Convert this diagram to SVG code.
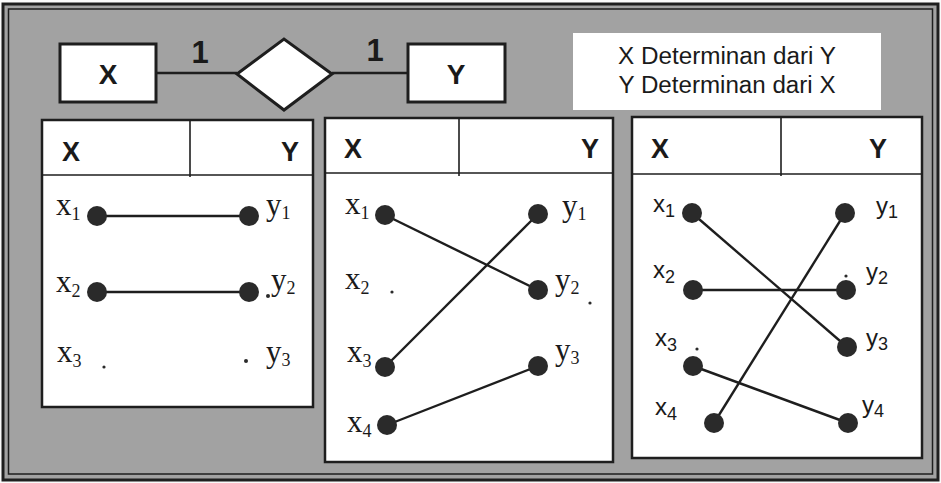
<svg xmlns="http://www.w3.org/2000/svg" width="941" height="483" viewBox="0 0 941 483">
<defs>
<style>
.frame{fill:none;stroke:#1e1e1e}
.box{fill:#fff;stroke:#1e1e1e;stroke-width:3}
.tbl{fill:#fff;stroke:#1e1e1e;stroke-width:2.5}
.div{stroke:#1e1e1e;stroke-width:1.6}
.bold{font-family:"Liberation Sans",Arial,sans-serif;font-weight:bold;fill:#1a1a1a}
.note{font-family:"Liberation Sans",Arial,sans-serif;font-size:23px;fill:#1a1a1a}
.ser{font-family:"Liberation Serif","Times New Roman",serif;font-size:31px;fill:#1a1a1a}
.san{font-family:"Liberation Sans",Arial,sans-serif;font-size:24px;fill:#1a1a1a}
.sub{font-size:18px}
.pt{fill:#2a2a2a}
.dot{fill:#2a2a2a}
.ln{stroke:#1e1e1e;stroke-width:2.4;fill:none}
</style>
</defs>
<rect x="0" y="0" width="941" height="483" fill="#fafafa"/>
<rect x="3" y="4" width="935" height="476" fill="#a2a2a2"/>
<rect class="frame" x="3" y="4" width="935" height="476" stroke-width="3"/>
<rect class="frame" x="8.5" y="9" width="924" height="465" stroke-width="1.5"/>

<g id="connectors">
<line class="ln" x1="157" y1="73" x2="237" y2="73" stroke-width="3.5"/>
<line class="ln" x1="332" y1="73" x2="408" y2="73" stroke-width="3.5"/>
</g>

<g id="entity-x">
<rect class="box" x="60" y="44" width="96" height="58"/>
<text class="bold" x="108" y="84" font-size="28" text-anchor="middle">X</text>
</g>
<g id="relation">
<polygon points="237,74 284,39 332,74 284,110" fill="#fff" stroke="#1e1e1e" stroke-width="3"/>
</g>
<g id="entity-y">
<rect class="box" x="408" y="44" width="97" height="58"/>
<text class="bold" x="456" y="84" font-size="28" text-anchor="middle">Y</text>
</g>
<g id="card-left"><text class="bold" x="200" y="63" font-size="31" text-anchor="middle">1</text></g>
<g id="card-right"><text class="bold" x="375" y="61" font-size="31" text-anchor="middle">1</text></g>

<g id="note">
<rect x="573" y="33" width="308" height="77" fill="#fff"/>
<text class="note" x="727" y="64" text-anchor="middle" textLength="218" lengthAdjust="spacingAndGlyphs">X Determinan dari Y</text>
<text class="note" x="727" y="93" text-anchor="middle" textLength="217" lengthAdjust="spacingAndGlyphs">Y Determinan dari X</text>
</g>

<g id="table1">
<rect class="tbl" x="42" y="120" width="271" height="287"/>
<line class="div" x1="42" y1="175" x2="313" y2="175"/>
<line class="div" x1="190" y1="120" x2="190" y2="177"/>
<text class="bold" x="62" y="161" font-size="27">X</text>
<text class="bold" x="299" y="161" font-size="27" text-anchor="end">Y</text>
<line class="ln" x1="97" y1="216" x2="249" y2="216"/>
<line class="ln" x1="97" y1="292" x2="249" y2="292"/>
<circle class="dot" cx="97" cy="216" r="10"/>
<circle class="dot" cx="249" cy="216" r="10"/>
<circle class="dot" cx="97" cy="292" r="10"/>
<circle class="dot" cx="249" cy="292" r="10"/>
<circle class="pt" cx="104" cy="367" r="1.6"/>
<circle class="pt" cx="246" cy="361" r="2"/>
<circle class="pt" cx="268" cy="296" r="2"/>
<text class="ser" x="56" y="215">x<tspan class="sub" dy="5">1</tspan></text>
<text class="ser" x="266" y="215">y<tspan class="sub" dy="4">1</tspan></text>
<text class="ser" x="56" y="292">x<tspan class="sub" dy="5">2</tspan></text>
<text class="ser" x="271" y="290">y<tspan class="sub" dy="4">2</tspan></text>
<text class="ser" x="57" y="362">x<tspan class="sub" dy="5">3</tspan></text>
<text class="ser" x="266" y="362">y<tspan class="sub" dy="4">3</tspan></text>
</g>

<g id="table2">
<rect class="tbl" x="325" y="118" width="288" height="344"/>
<line class="div" x1="325" y1="173" x2="613" y2="173"/>
<line class="div" x1="459" y1="118" x2="459" y2="176"/>
<text class="bold" x="344" y="158" font-size="27">X</text>
<text class="bold" x="599" y="158" font-size="27" text-anchor="end">Y</text>
<line class="ln" x1="385" y1="215" x2="538" y2="290"/>
<line class="ln" x1="538" y1="214" x2="385" y2="367"/>
<line class="ln" x1="387" y1="425" x2="538" y2="366"/>
<circle class="dot" cx="385" cy="215" r="10"/>
<circle class="dot" cx="538" cy="214" r="10"/>
<circle class="dot" cx="538" cy="290" r="10"/>
<circle class="dot" cx="385" cy="367" r="10"/>
<circle class="dot" cx="538" cy="366" r="10"/>
<circle class="dot" cx="387" cy="425" r="10"/>
<circle class="pt" cx="392" cy="292" r="1.6"/>
<circle class="pt" cx="590" cy="303" r="1.6"/>
<text class="ser" x="345" y="214">x<tspan class="sub" dy="5">1</tspan></text>
<text class="ser" x="562" y="216">y<tspan class="sub" dy="4">1</tspan></text>
<text class="ser" x="345" y="289">x<tspan class="sub" dy="5">2</tspan></text>
<text class="ser" x="555" y="290">y<tspan class="sub" dy="4">2</tspan></text>
<text class="ser" x="347" y="362">x<tspan class="sub" dy="5">3</tspan></text>
<text class="ser" x="555" y="360">y<tspan class="sub" dy="4">3</tspan></text>
<text class="ser" x="347" y="432">x<tspan class="sub" dy="5">4</tspan></text>
</g>

<g id="table3">
<rect class="tbl" x="632" y="117" width="290" height="341"/>
<line class="div" x1="632" y1="174" x2="922" y2="174"/>
<line class="div" x1="781" y1="117" x2="781" y2="176"/>
<text class="bold" x="651" y="158" font-size="27">X</text>
<text class="bold" x="887" y="158" font-size="27" text-anchor="end">Y</text>
<line class="ln" x1="692" y1="213" x2="847" y2="347"/>
<line class="ln" x1="845" y1="213" x2="714" y2="423"/>
<line class="ln" x1="693" y1="290" x2="846" y2="290"/>
<line class="ln" x1="693" y1="366" x2="848" y2="423"/>
<circle class="dot" cx="692" cy="213" r="10"/>
<circle class="dot" cx="845" cy="213" r="10"/>
<circle class="dot" cx="693" cy="290" r="10"/>
<circle class="dot" cx="846" cy="290" r="10"/>
<circle class="dot" cx="693" cy="366" r="10"/>
<circle class="dot" cx="847" cy="347" r="10"/>
<circle class="dot" cx="714" cy="423" r="10"/>
<circle class="dot" cx="848" cy="423" r="10"/>
<circle class="pt" cx="846" cy="276" r="1.6"/>
<circle class="pt" cx="697" cy="349" r="1.6"/>
<text class="san" x="653" y="212">x<tspan class="sub" dy="5">1</tspan></text>
<text class="san" x="876" y="214">y<tspan class="sub" dy="4">1</tspan></text>
<text class="san" x="653" y="278">x<tspan class="sub" dy="5">2</tspan></text>
<text class="san" x="866" y="280">y<tspan class="sub" dy="4">2</tspan></text>
<text class="san" x="655" y="346">x<tspan class="sub" dy="5">3</tspan></text>
<text class="san" x="866" y="346">y<tspan class="sub" dy="4">3</tspan></text>
<text class="san" x="655" y="415">x<tspan class="sub" dy="5">4</tspan></text>
<text class="san" x="862" y="413">y<tspan class="sub" dy="4">4</tspan></text>
</g>
</svg>
